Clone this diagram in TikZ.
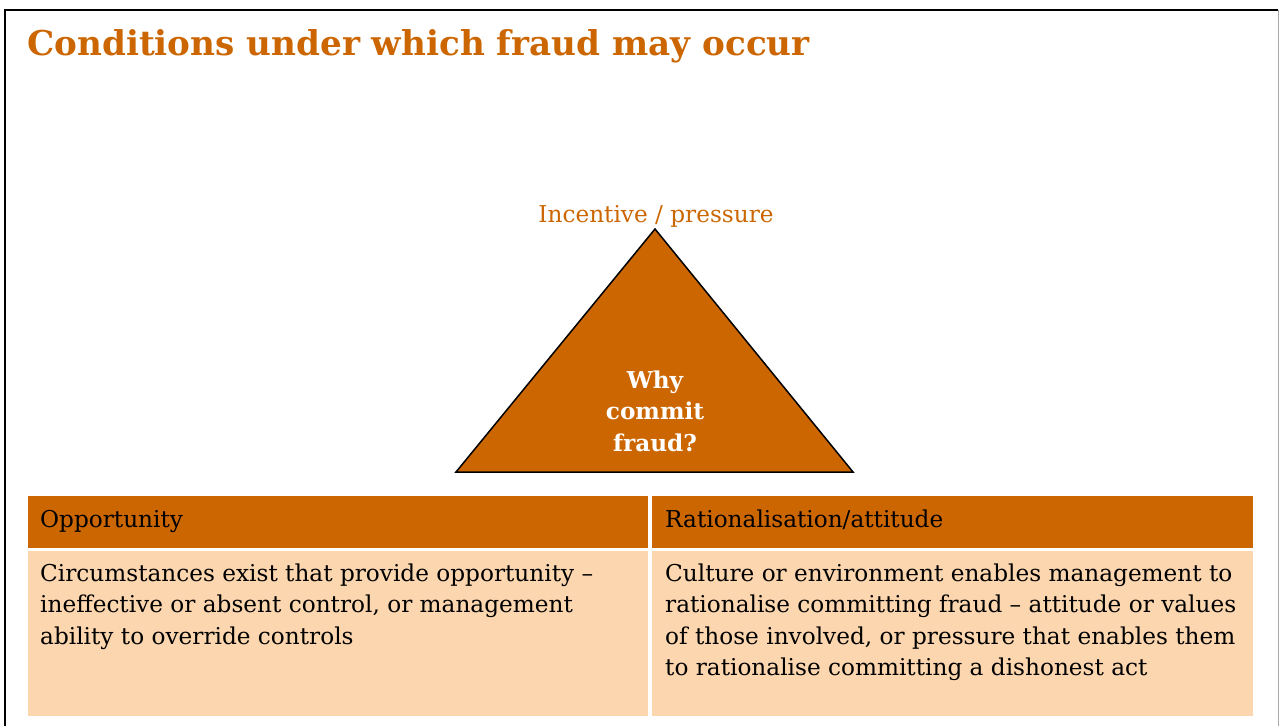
\documentclass[tikz,border=0pt]{standalone}
\usepackage{fontspec}
\setmainfont{DejaVu Serif}
\definecolor{fraudorange}{RGB}{204,102,0}
\definecolor{peach}{RGB}{252,214,174}
\definecolor{framegray}{RGB}{170,170,170}
\tikzset{
  headcell/.style={fill=fraudorange, draw=none},
  bodycell/.style={fill=peach, draw=none},
  celltext/.style={anchor=base west, inner sep=0pt, text=black},
}
\newcommand{\bodyfont}{\fontsize{23.2}{31.5}\selectfont}
\begin{document}
\begin{tikzpicture}[x=1pt,y=-1pt]
\useasboundingbox (0,0) rectangle (1279,726);
\fill[white] (0,0) rectangle (1279,726);
% frame
\draw[framegray, line width=1pt] (1278,10) -- (1278,726);
\draw[black, line width=2pt] (5,726) -- (5,10) -- (1278,10);
% title
\node[anchor=base west, inner sep=0pt, text=fraudorange] (title) at (27,55)
  {\fontsize{34.2}{40}\selectfont\bfseries Conditions under which fraud may occur};
% triangle
\coordinate (apex) at (655,229);
\coordinate (bl) at (456,472);
\coordinate (br) at (853,472);
\filldraw[fill=fraudorange, draw=black, line width=1.5pt, line join=miter] (apex) -- (bl) -- (br) -- cycle;
\node[anchor=base, inner sep=0pt, text=fraudorange] (incentive) at (656,222)
  {\bodyfont Incentive / pressure};
\node[anchor=base, inner sep=0pt, text=white] (why) at (655,388)
  {\parbox[t]{200pt}{\centering\bodyfont\bfseries Why\\commit\\fraud?}};
% table
\path[headcell] (28,496) rectangle (648,548);
\path[headcell] (652,496) rectangle (1253,548);
\path[bodycell] (28,551) rectangle (648,716);
\path[bodycell] (652,551) rectangle (1253,716);
\node[celltext] (opp) at (40,527) {\bodyfont Opportunity};
\node[celltext] (rat) at (665,527) {\bodyfont Rationalisation/attitude};
\node[celltext] (oppbody) at (40,581)
  {\parbox[t]{600pt}{\raggedright\bodyfont Circumstances exist that provide opportunity --\\ineffective or absent control, or management\\ability to override controls}};
\node[celltext] (ratbody) at (665,581)
  {\parbox[t]{600pt}{\raggedright\bodyfont Culture or environment enables management to\\rationalise committing fraud -- attitude or values\\of those involved, or pressure that enables them\\to rationalise committing a dishonest act}};
\end{tikzpicture}
\end{document}
